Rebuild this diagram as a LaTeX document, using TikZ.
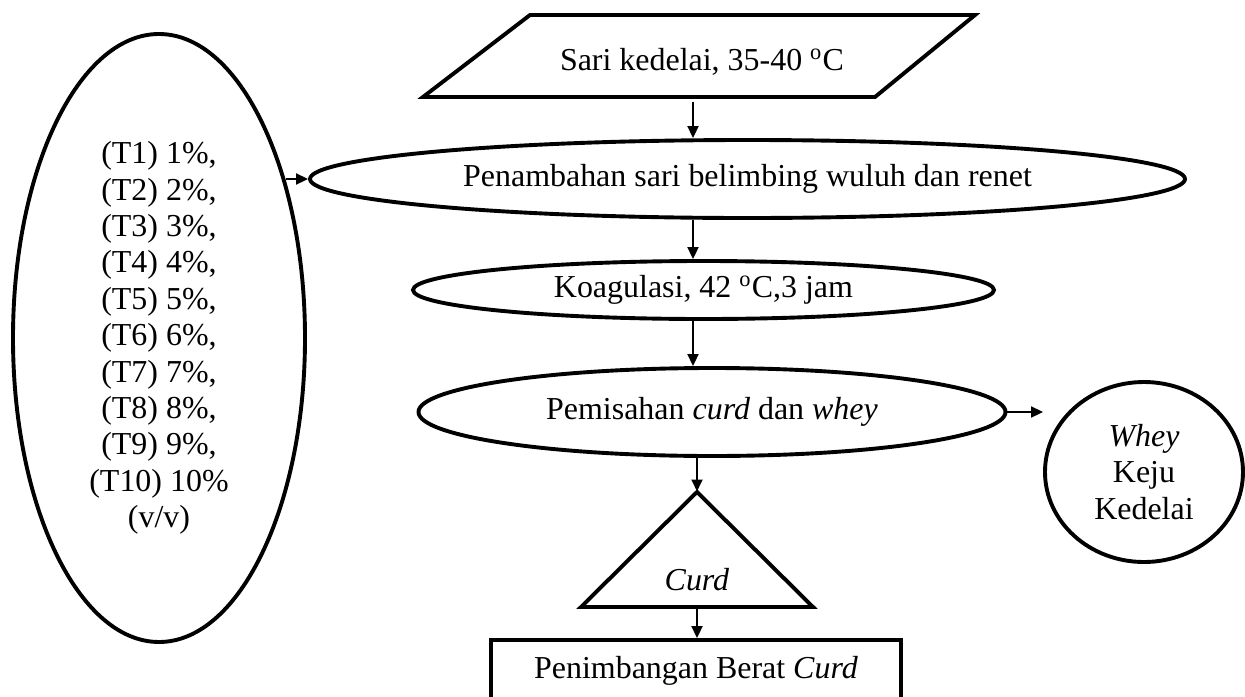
\documentclass[tikz,border=0pt]{standalone}
\usepackage{fontspec}
\setmainfont{Liberation Serif}
\usetikzlibrary{shapes.geometric,arrows.meta}
\newcommand{\pxu}{0.385pt}
\begin{document}
\begin{tikzpicture}[x=0.385pt,y=-0.385pt,
  txt/.style={font=\fontsize{12.3}{14}\selectfont,align=center,inner sep=0pt},
  shp/.style={txt,draw,line width=1.5pt},
  ell/.style={shp,ellipse},
  ghost/.style={txt,rectangle},
  arr/.style={line width=0.8pt,-{Triangle[length=4.6pt,width=4.2pt]}}]
\useasboundingbox (0,0) rectangle (1245,697);
% input parallelogram
\draw[line width=1.5pt] (530,15) -- (975,15) -- (875,97) -- (423,97) -- cycle;
\node[ghost,minimum height=70*\pxu,minimum width=300*\pxu] (sari) at (702,62) {Sari kedelai, 35-40 \textsuperscript{o}C};
% treatments
\node[ell,minimum width=292*\pxu,minimum height=608*\pxu] (treat) at (159,338)
  {(T1) 1\%,\\(T2) 2\%,\\(T3) 3\%,\\(T4) 4\%,\\(T5) 5\%,\\(T6) 6\%,\\(T7) 7\%,\\(T8) 8\%,\\(T9) 9\%,\\(T10) 10\%\\(v/v)};
% process
\node[ell,minimum width=875*\pxu,minimum height=78*\pxu] (pen) at (747.5,179) {Penambahan sari belimbing wuluh dan renet};
\node[ell,minimum width=581*\pxu,minimum height=58*\pxu] (koa) at (703.5,290) {Koagulasi, 42 \textsuperscript{o}C,3 jam};
\node[ell,minimum width=587*\pxu,minimum height=88*\pxu] (pem) at (712,412) {Pemisahan \textit{curd} dan \textit{whey}};
\node[ell,minimum width=198*\pxu,minimum height=180*\pxu] (whey) at (1144,472) {\textit{Whey}\\Keju\\Kedelai};
% curd triangle
\draw[line width=1.5pt] (697,492) -- (813,607) -- (581,607) -- cycle;
\node[ghost,minimum width=232*\pxu,minimum height=115*\pxu] (tri) at (697,549.5) {};
\node[txt] (curd) at (697,580) {\textit{Curd}};
% weighing
\node[shp,rectangle,minimum width=410*\pxu,minimum height=62*\pxu] (wgt) at (696,671) {Penimbangan Berat \textit{Curd}};
% connectors
\coordinate (ax) at (693,0);
\draw[arr] (ax |- sari.south) ++(0,4) -- (ax |- pen.north);
\draw[arr] (ax |- pen.south) -- (ax |- koa.north);
\draw[arr] (ax |- koa.south) -- (ax |- pem.north);
\draw[arr] (tri.north |- pem.south) -- (tri.north);
\draw[arr] (tri.south) -- (tri.south |- wgt.north);
\draw[arr] (pen.west -| treat.51) -- (pen.west);
\draw[arr] (pem.east) -- (pem.east -| whey.west);
\end{tikzpicture}
\end{document}
